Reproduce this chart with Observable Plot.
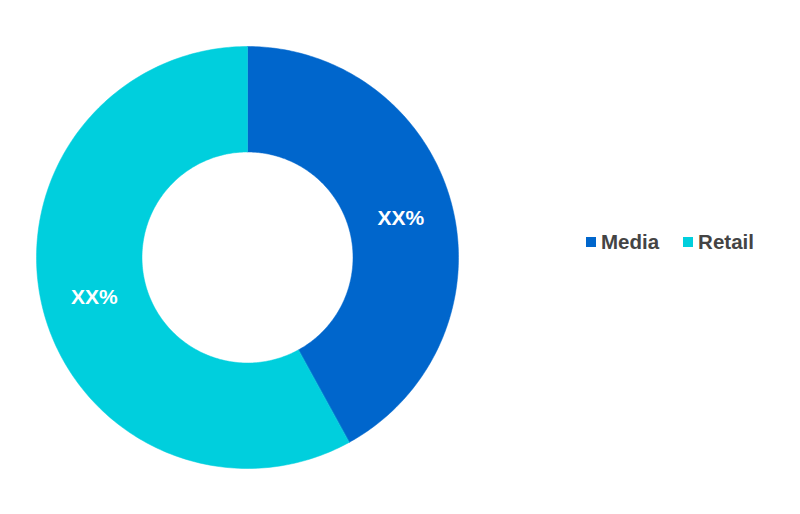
<!DOCTYPE html>
<html>
<head>
<meta charset="utf-8">
<script src="https://cdn.jsdelivr.net/npm/d3@7"></script>
<script src="https://cdn.jsdelivr.net/npm/@observablehq/plot@0.6"></script>
<style>
  body { margin: 0; background: #fff; }
  #wrap { position: relative; width: 800px; height: 514px; }
  #legend { position: absolute; left: 586px; top: 230px; height: 24px; display: flex; gap: 24px;
    font-family: "Liberation Sans", Arial, sans-serif; font-weight: bold; font-size: 20.5px; color: #444; line-height: 24px; }
  .item { display: flex; align-items: center; }
  .sw { width: 10px; height: 10px; margin-right: 5px; }
</style>
</head>
<body>
<div id="wrap"></div>
<script>
const categories = ["Media", "Retail"];
const shares = [42, 58];
const labels = ["XX%", "XX%"];
const colors = ["#0066CC", "#00CFDD"];

const W = 800, H = 514, cx = 247, cy = 257, R = 211;
const innerRatio = 0.5;

const pie = d3.pie().sort(null).value(d => d.value)(categories.map((c, i) => ({name: c, value: shares[i], label: labels[i]})));

// polygon outlines of each ring segment, in unit-radius coordinates
const poly = [];
for (const p of pie) {
  const n = 200;
  const pts = [];
  for (let k = 0; k <= n; k++) {
    const a = p.startAngle + (p.endAngle - p.startAngle) * k / n;
    pts.push([Math.sin(a), Math.cos(a)]);
  }
  for (let k = n; k >= 0; k--) {
    const a = p.startAngle + (p.endAngle - p.startAngle) * k / n;
    pts.push([innerRatio * Math.sin(a), innerRatio * Math.cos(a)]);
  }
  for (const [x, y] of pts) poly.push({name: p.data.name, x, y});
}
const mid = pie.map(p => {
  const a = (p.startAngle + p.endAngle) / 2, r = (1 + innerRatio) / 2;
  return {name: p.data.name, label: p.data.label, x: r * Math.sin(a), y: r * Math.cos(a)};
});

const chart = Plot.plot({
  width: W, height: H, margin: 0,
  x: {domain: [-cx / R, (W - cx) / R], axis: null},
  y: {domain: [-(H - cy) / R, cy / R], axis: null},
  color: {domain: categories, range: colors},
  marks: [
    Plot.line(poly, {x: "x", y: "y", z: "name", fill: "name", stroke: "name", strokeWidth: 0.5, curve: "linear-closed"}),
    Plot.text(mid, {x: "x", y: "y", text: "label", fill: "white", fontSize: 21, fontWeight: "bold",
      fontFamily: "Liberation Sans, Arial, sans-serif"})
  ]
});
const wrap = document.getElementById("wrap");
wrap.appendChild(chart);

const legend = document.createElement("div");
legend.id = "legend";
categories.forEach((c, i) => {
  const it = document.createElement("div");
  it.className = "item";
  const sw = document.createElement("span");
  sw.className = "sw";
  sw.style.background = colors[i];
  it.appendChild(sw);
  it.appendChild(document.createTextNode(c));
  legend.appendChild(it);
});
wrap.appendChild(legend);
</script>
</body>
</html>
